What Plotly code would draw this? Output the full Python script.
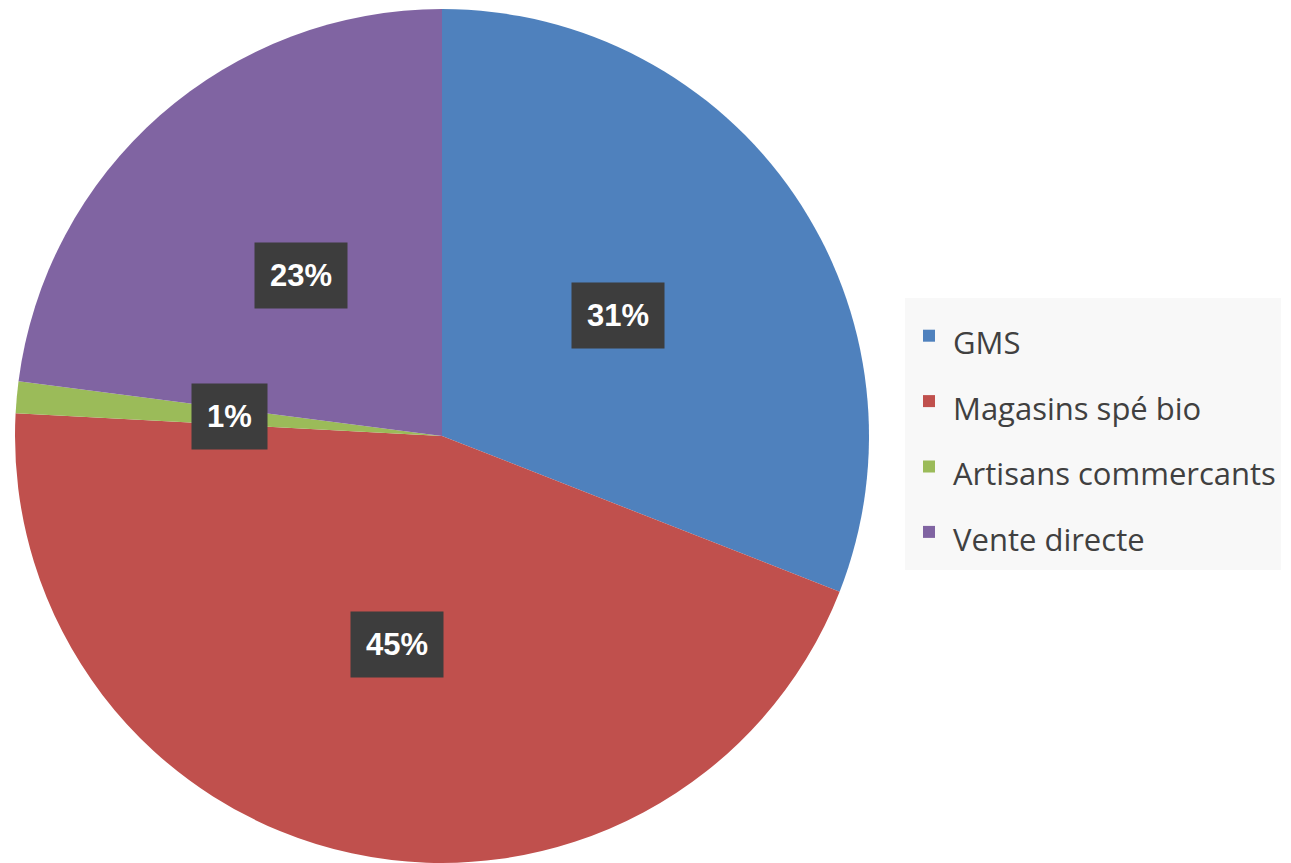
import math
import plotly.graph_objects as go

# channel shares
labels = ["GMS", "Magasins spé bio", "Artisans commercants", "Vente directe"]
values = [31, 45, 1.2, 23]
colors = ["#4F81BD", "#C0504D", "#9BBB59", "#8064A2"]

W, H = 1291, 863
OFF = 8   # page body margin added by the html
cx_px, cy_px, R = 442 - OFF, 436 - OFF, 427   # pie centre / radius in figure pixels

fig = go.Figure(go.Pie(
    labels=["<span style='font-size:31px'>%s</span>" % l for l in labels],
    values=values,
    sort=False,
    direction="clockwise",
    rotation=0,
    marker=dict(colors=colors, line=dict(width=0)),
    textinfo="none",
    hoverinfo="label+percent",
    domain=dict(x=[(cx_px - R) / W, (cx_px + R) / W],
                y=[(H - cy_px - R) / H, (H - cy_px + R) / H]),
))

# data labels in dark boxes, halfway along each slice's mid angle
total = sum(values)
cum = 0
for v in values:
    mid = (cum + v / 2) / total
    cum += v
    th = 2 * math.pi * mid
    x = (cx_px + 0.5 * R * math.sin(th)) / W
    y = (H - cy_px + 0.5 * R * math.cos(th)) / H
    fig.add_annotation(
        x=x, y=y, xref="paper", yref="paper",
        xanchor="center", yanchor="middle",
        text="<b>%d%%</b>" % round(100 * v / total),
        showarrow=False,
        font=dict(family="Liberation Sans", size=31, color="white"),
        bgcolor="#3d3d3d", borderpad=15,
    )

fig.update_layout(
    width=W, height=H,
    margin=dict(l=0, r=0, t=0, b=0),
    paper_bgcolor="white",
    showlegend=True,
    legend=dict(
        x=(905 - OFF) / W, xanchor="left", y=1 - (298 - OFF) / H, yanchor="top",
        bgcolor="#f8f8f8",
        itemwidth=38,
        font=dict(family="Open Sans", size=48, color="#404040"),
    ),
)

fig.write_html("out.html")
